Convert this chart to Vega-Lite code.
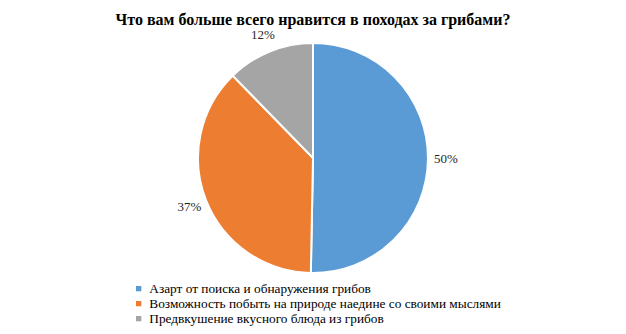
{
  "$schema": "https://vega.github.io/schema/vega-lite/v6.json",
  "width": 626,
  "height": 236,
  "autosize": {"type": "none"},
  "padding": {"top": 40, "bottom": 58, "left": 0, "right": 0},
  "background": "white",
  "title": {
    "text": "Что вам больше всего нравится в походах за грибами?",
    "font": "Liberation Serif",
    "fontSize": 16,
    "fontWeight": "bold",
    "color": "#000000",
    "anchor": "middle",
    "offset": 1
  },
  "data": {
    "values": [
      {"category": "Азарт от поиска и обнаружения грибов", "share": 0.503},
      {"category": "Возможность побыть на природе наедине со своими мыслями", "share": 0.374},
      {"category": "Предвкушение вкусного блюда из грибов", "share": 0.123}
    ]
  },
  "encoding": {
    "theta": {"field": "share", "type": "quantitative", "stack": true},
    "color": {
      "field": "category",
      "type": "nominal",
      "scale": {
        "domain": [
          "Азарт от поиска и обнаружения грибов",
          "Возможность побыть на природе наедине со своими мыслями",
          "Предвкушение вкусного блюда из грибов"
        ],
        "range": ["#5B9BD5", "#ED7D31", "#A5A5A5"]
      },
      "legend": {
        "orient": "none",
        "legendX": 132,
        "legendY": 242,
        "direction": "vertical",
        "title": null,
        "symbolType": "square",
        "symbolSize": 28,
        "symbolStrokeWidth": 0,
        "labelFont": "Liberation Serif",
        "labelFontSize": 13.3,
        "labelColor": "#000000",
        "labelLimit": 500,
        "labelOffset": 4,
        "rowPadding": 1
      }
    },
    "order": {"field": "category", "sort": "ascending"}
  },
  "layer": [
    {
      "mark": {"type": "arc", "outerRadius": 115, "stroke": "white", "strokeWidth": 2}
    },
    {
      "mark": {"type": "text", "radius": 133, "font": "Liberation Serif", "fontSize": 13},
      "encoding": {
        "text": {"field": "share", "type": "quantitative", "format": ".0%"},
        "color": {"value": "#262626"}
      }
    }
  ],
  "config": {"font": "Liberation Serif", "view": {"stroke": null}}
}
